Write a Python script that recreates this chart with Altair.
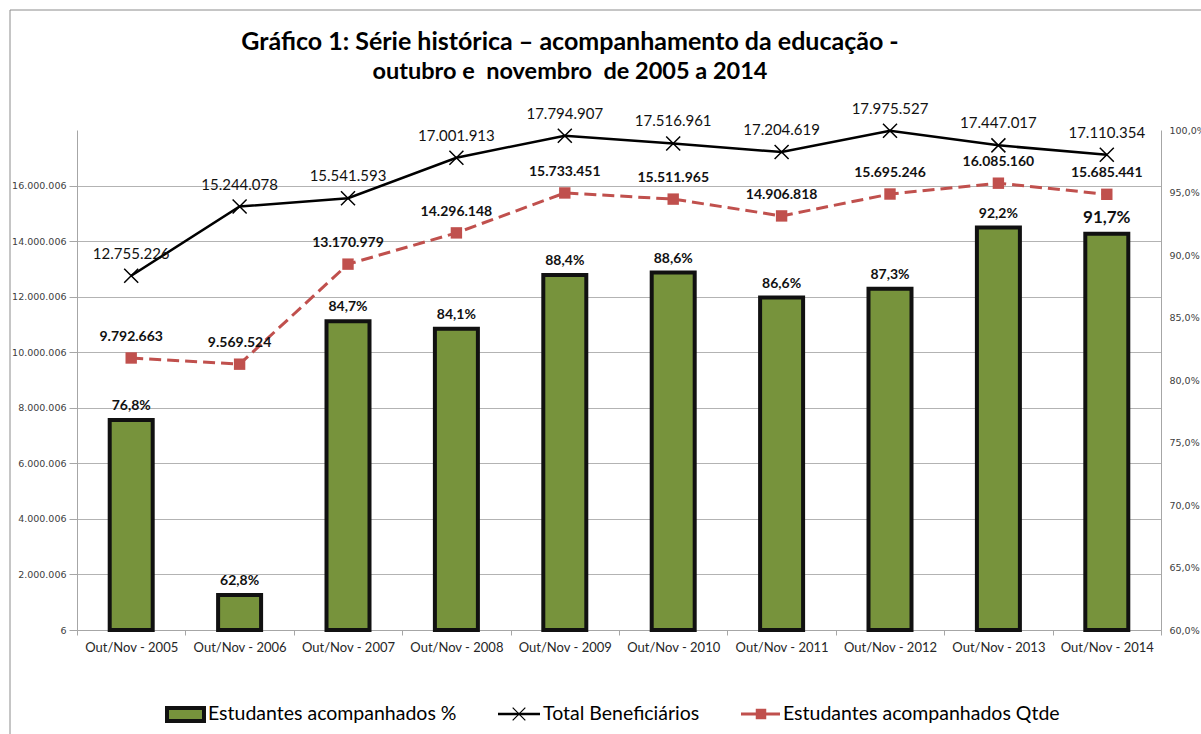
import altair as alt
import pandas as pd

categories = ["Out/Nov - 2005", "Out/Nov - 2006", "Out/Nov - 2007", "Out/Nov - 2008",
              "Out/Nov - 2009", "Out/Nov - 2010", "Out/Nov - 2011", "Out/Nov - 2012",
              "Out/Nov - 2013", "Out/Nov - 2014"]
pct_values = [76.8, 62.8, 84.7, 84.1, 88.4, 88.6, 86.6, 87.3, 92.2, 91.7]
total_values = [12755226, 15244078, 15541593, 17001913, 17794907,
                17516961, 17204619, 17975527, 17447017, 17110354]
qtde_values = [9792663, 9569524, 13170979, 14296148, 15733451,
               15511965, 14906818, 15695246, 16085160, 15685441]
left_ticks = [6, 2000006, 4000006, 6000006, 8000006, 10000006, 12000006, 14000006, 16000006]
right_ticks = [60, 65, 70, 75, 80, 85, 90, 95, 100]

def br_int(v):
    return f"{v:,}".replace(",", ".")

def br_pct(v):
    return f"{v:.1f}".replace(".", ",") + "%"

df = pd.DataFrame({
    "cat": categories,
    "pct": pct_values,
    "total": total_values,
    "qtde": qtde_values,
    "base": [60] * len(categories),
    "pct_lbl": [br_pct(v) for v in pct_values],
    "total_lbl": [br_int(v) for v in total_values],
    "qtde_lbl": [br_int(v) for v in qtde_values],
})
one = pd.DataFrame({"k": [0]})

GREEN = "#77933C"
RED = "#C0504D"
GRID = "#b3b3b3"
AXC = "#a6a6a6"
X_SHAPE = "M-1,-1L1,1M-1,1L1,-1"

x_enc = alt.X("cat:N", sort=categories,
              scale=alt.Scale(paddingInner=0, paddingOuter=0),
              axis=alt.Axis(title=None, labelAngle=0, tickBand="extent",
                            domainColor=AXC, tickColor=AXC, tickSize=5,
                            labelFont="Lato", labelFontSize=13, labelColor="#262626",
                            labelPadding=6))

left_scale = alt.Scale(domain=[6, 18000006], nice=False, zero=False)
left_axis = alt.Axis(orient="left", values=left_ticks, title=None,
                     labelExpr="replace(format(datum.value, ','), /,/g, '.')",
                     grid=True, gridColor=GRID, domainColor=AXC, tickColor=AXC,
                     tickSize=8, labelFont="DejaVu Sans", labelFontSize=9.5,
                     labelColor="#404040", labelPadding=3)
right_scale = alt.Scale(domain=[60, 100], nice=False, zero=False)
right_axis = alt.Axis(orient="right", values=right_ticks, title=None,
                      labelExpr="replace(format(datum.value, '.1f'), '.', ',') + '%'",
                      grid=False, ticks=False, domainColor=AXC,
                      labelFont="DejaVu Sans", labelFontSize=9.5,
                      labelColor="#404040", labelPadding=8)

base = alt.Chart(df)

bars = base.mark_bar(size=43, fill=GREEN, stroke="#111111", strokeWidth=4).encode(
    x=x_enc,
    y=alt.Y("pct:Q", scale=right_scale, axis=right_axis),
    y2="base:Q",
)
bar_lbl = base.mark_text(font="Lato", fontWeight="bold", baseline="bottom", dy=-7,
                         color="#111111").encode(
    x=x_enc,
    y=alt.Y("pct:Q", scale=right_scale, axis=right_axis),
    text="pct_lbl:N",
    size=alt.condition(alt.datum.cat == "Out/Nov - 2014", alt.value(17), alt.value(14)),
)
right_group = alt.layer(bars, bar_lbl)

def ly(field):
    return alt.Y(f"{field}:Q", scale=left_scale, axis=left_axis)

total_line = base.mark_line(color="#000000", strokeWidth=2.5).encode(x=x_enc, y=ly("total"))
total_pts = base.mark_point(shape=X_SHAPE, size=196, filled=False, color="#000000",
                            strokeWidth=1.5, opacity=1).encode(x=x_enc, y=ly("total"))
total_lbl = base.mark_text(font="Lato", fontSize=15, baseline="middle", dy=-22,
                           color="#111111").encode(x=x_enc, y=ly("total"), text="total_lbl:N")
qtde_line = base.mark_line(color=RED, strokeWidth=3, strokeDash=[12, 6]).encode(
    x=x_enc, y=ly("qtde"))
qtde_pts = base.mark_point(shape="square", size=130, filled=True, color=RED,
                           opacity=1).encode(x=x_enc, y=ly("qtde"))
qtde_lbl = base.mark_text(font="Lato", fontSize=14, fontWeight="bold", baseline="middle",
                          dy=-21, color="#111111").encode(x=x_enc, y=ly("qtde"),
                                                          text="qtde_lbl:N")
left_group = alt.layer(total_line, qtde_line, total_pts, qtde_pts, total_lbl, qtde_lbl)

ob = alt.Chart(one)
OX, OY = 77, 130

border = ob.mark_rect(fill=None, stroke="#8c8c8c", strokeWidth=1).encode(
    x=alt.value(10 - OX), x2=alt.value(1300), y=alt.value(10 - OY), y2=alt.value(900))
title1 = ob.mark_text(text="Gráfico 1: Série histórica – acompanhamento da educação -",
                      font="Lato", fontSize=25, fontWeight="bold", align="center",
                      baseline="middle", color="#000000").encode(
    x=alt.value(570 - OX), y=alt.value(42 - OY))
title2 = ob.mark_text(text="outubro e\u00a0 novembro\u00a0 de 2005 a 2014",
                      font="Lato", fontSize=23.5, fontWeight="bold", align="center",
                      baseline="middle", color="#000000").encode(
    x=alt.value(570 - OX), y=alt.value(72 - OY))

LY = 714 - OY
leg_rect = ob.mark_rect(fill=GREEN, stroke="#111111", strokeWidth=4).encode(
    x=alt.value(167 - OX), x2=alt.value(204 - OX), y=alt.value(708 - OY), y2=alt.value(721 - OY))
leg_t1 = ob.mark_text(text="Estudantes acompanhados %", font="Lato", fontSize=19.5,
                      align="left", baseline="middle", color="#000000").encode(
    x=alt.value(208 - OX), y=alt.value(LY))
leg_l2 = ob.mark_rule(color="#000000", strokeWidth=2.5).encode(
    x=alt.value(498 - OX), x2=alt.value(540 - OX), y=alt.value(LY))
leg_p2 = ob.mark_point(shape=X_SHAPE, size=160, filled=False, color="#000000",
                       strokeWidth=1.2, opacity=1).encode(x=alt.value(519 - OX), y=alt.value(LY))
leg_t2 = ob.mark_text(text="Total Beneficiários", font="Lato", fontSize=19.5,
                      align="left", baseline="middle", color="#000000").encode(
    x=alt.value(543 - OX), y=alt.value(LY))
leg_l3 = ob.mark_rule(color=RED, strokeWidth=3).encode(
    x=alt.value(741 - OX), x2=alt.value(780 - OX), y=alt.value(LY))
leg_p3 = ob.mark_point(shape="square", size=110, filled=True, color=RED,
                       opacity=1).encode(x=alt.value(761 - OX), y=alt.value(LY))
leg_t3 = ob.mark_text(text="Estudantes acompanhados Qtde", font="Lato", fontSize=19.5,
                      align="left", baseline="middle", color="#000000").encode(
    x=alt.value(783 - OX), y=alt.value(LY))

chart = alt.layer(
    right_group, left_group,
    border, title1, title2,
    leg_rect, leg_t1, leg_l2, leg_p2, leg_t2, leg_l3, leg_p3, leg_t3,
).resolve_scale(y="independent").properties(
    width=1084, height=500,
    autosize=alt.AutoSizeParams(type="none"),
    padding={"left": OX, "top": OY, "right": 40, "bottom": 104},
    background="white",
).configure_view(stroke=None)

chart.save("out.html", embed_options={"renderer": "svg", "actions": False})
